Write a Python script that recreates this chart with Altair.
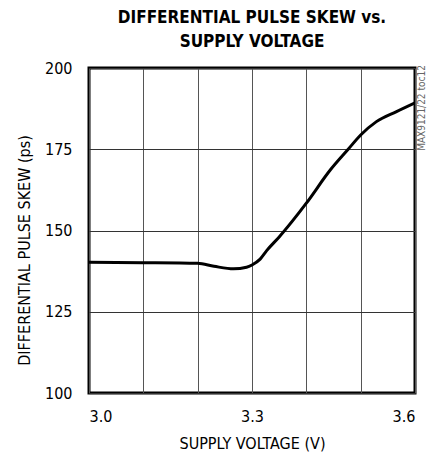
import altair as alt
import pandas as pd

voltage = [3.0, 3.1, 3.2, 3.23, 3.266, 3.29, 3.3, 3.315, 3.327, 3.35, 3.4, 3.444, 3.477, 3.5, 3.529, 3.566, 3.6]
skew = [140.2, 140.1, 139.9, 139.0, 138.2, 138.7, 139.4, 141.2, 143.8, 148.0, 158.4, 168.6, 175.0, 179.4, 183.5, 186.6, 189.3]

df = pd.DataFrame({"v": voltage, "s": skew})
note = pd.DataFrame({"t": ["MAX9121/22 toc12"]})

FONT = "Liberation Sans Narrow, DejaVu Sans Condensed, sans-serif"

xgrid = [3.0, 3.1, 3.2, 3.3, 3.4, 3.5, 3.6]
ygrid = [100, 125, 150, 175, 200]

line = alt.Chart(df).mark_line(color="black", strokeWidth=3, interpolate="monotone", clip=True).encode(
    x=alt.X("v:Q", scale=alt.Scale(domain=[3.0, 3.6], nice=False, zero=False),
            axis=alt.Axis(values=xgrid, grid=True, gridColor="#555", gridWidth=1, gridOpacity=1,
                          domain=False, ticks=False, labelFont=FONT, labelFontSize=16,
                          labelColor="black", labelPadding=15,
                          labelExpr="round(datum.value*10) % 3 == 0 ? format(datum.value, '.1f') : ''",
                          title="SUPPLY VOLTAGE (V)", titleFont=FONT, titleFontSize=16,
                          titleFontWeight="normal", titleColor="black", titlePadding=11)),
    y=alt.Y("s:Q", scale=alt.Scale(domain=[100, 200], nice=False, zero=False),
            axis=alt.Axis(values=ygrid, grid=True, gridColor="#333", gridWidth=1, gridOpacity=1,
                          domain=False, ticks=False, labelFont=FONT, labelFontSize=16,
                          labelColor="black", labelPadding=17,
                          title="DIFFERENTIAL PULSE SKEW (ps)", titleFont=FONT, titleFontSize=16,
                          titleFontWeight="normal", titleColor="black",
                          titleX=-57, titleY=182)),
)

txt = alt.Chart(note).mark_text(angle=270, font=FONT, fontSize=10, color="#666",
                                align="center", baseline="middle").encode(
    text="t:N", x=alt.value(333), y=alt.value(40))

chart = alt.layer(line, txt).properties(
    width=326, height=325,
    title=alt.Title(["DIFFERENTIAL PULSE SKEW vs.", "SUPPLY VOLTAGE"], font=FONT, fontSize=17,
                    fontWeight="bold", color="black", anchor="middle", offset=9, lineHeight=24),
    autosize=alt.AutoSizeParams(type="none"),
    padding={"left": 81, "top": 60, "right": 16, "bottom": 62},
).configure_view(stroke="black", strokeWidth=3)

chart.save("out.html", embed_options={"renderer": "svg", "actions": False})
